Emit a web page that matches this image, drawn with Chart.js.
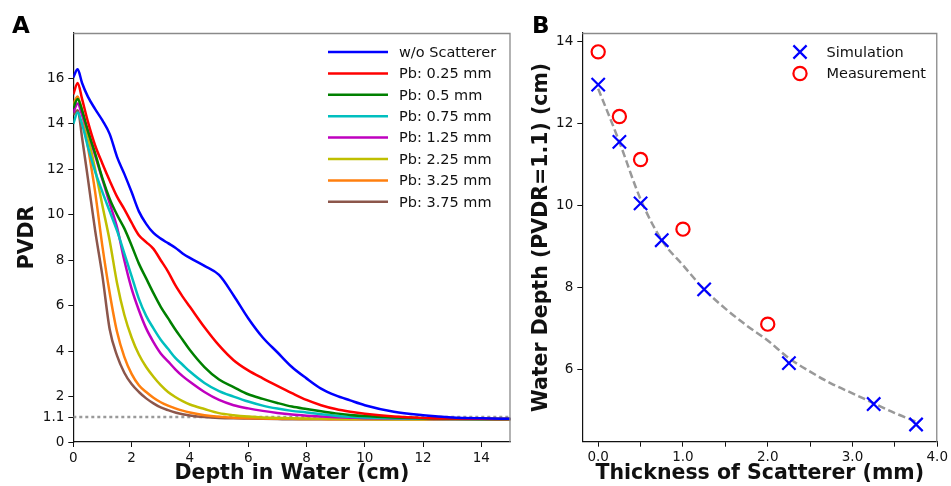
<!DOCTYPE html>
<html>
<head>
<meta charset="utf-8">
<script src="https://cdn.jsdelivr.net/npm/chart.js@4.4.1/dist/chart.umd.min.js"></script>
<style>
  body { margin: 0; background: #fff; width: 951px; height: 486px; overflow: hidden; position: relative; }
  #chartA { position: absolute; left: 0; top: 0; }
  #chartB { position: absolute; left: 520px; top: 0; }
</style>
</head>
<body>
<canvas id="chartA" width="520" height="486"></canvas>
<canvas id="chartB" width="431" height="486"></canvas>
<script>
// ---- panel A data: PVDR vs depth in water (cm)
const depth = [0, 0.15, 0.3, 0.5, 0.75, 1, 1.25, 1.5, 1.75, 2, 2.25, 2.5, 2.75, 3, 3.25, 3.5, 3.75, 4,
  4.5, 5, 5.5, 6, 6.5, 7, 7.5, 8, 8.5, 9, 9.5, 10, 11, 12, 13, 14, 15];
const pvdrNone = [16.05, 16.4, 15.8, 15.2, 14.65, 14.15, 13.55, 12.55, 11.8, 11.0, 10.15, 9.6, 9.2, 8.95, 8.75, 8.55, 8.3, 8.1,
  7.75, 7.35, 6.45, 5.45, 4.6, 3.95, 3.3, 2.8, 2.35, 2.05, 1.83, 1.62, 1.33, 1.18, 1.08, 1.04, 1.02];
const pvdrPb025 = [15.3, 15.8, 15.1, 14.1, 13.05, 12.25, 11.5, 10.8, 10.25, 9.65, 9.1, 8.8, 8.5, 8.0, 7.5, 6.9, 6.4, 5.95,
  5.05, 4.25, 3.6, 3.15, 2.8, 2.47, 2.15, 1.85, 1.62, 1.45, 1.33, 1.24, 1.12, 1.06, 1.03, 1.02, 1.01];
const pvdrPb05 = [14.7, 15.1, 14.6, 13.7, 12.7, 11.6, 10.7, 10.0, 9.4, 8.65, 7.85, 7.2, 6.55, 5.95, 5.45, 4.95, 4.5, 4.05,
  3.3, 2.75, 2.42, 2.1, 1.9, 1.72, 1.56, 1.45, 1.35, 1.26, 1.19, 1.14, 1.08, 1.04, 1.02, 1.01, 1.01];
const pvdrPb075 = [14.0, 14.5, 14.0, 13.0, 11.9, 11.0, 10.15, 9.3, 8.3, 7.3, 6.3, 5.55, 5.0, 4.5, 4.1, 3.7, 3.4, 3.1,
  2.6, 2.24, 2.0, 1.78, 1.6, 1.47, 1.37, 1.3, 1.22, 1.16, 1.11, 1.08, 1.04, 1.02, 1.01, 1.01, 1.01];
const pvdrPb125 = [14.5, 14.9, 14.4, 13.7, 12.6, 11.55, 10.5, 9.45, 8.0, 6.75, 5.8, 5.0, 4.4, 3.9, 3.55, 3.2, 2.9, 2.65,
  2.2, 1.85, 1.62, 1.48, 1.37, 1.28, 1.21, 1.16, 1.12, 1.09, 1.07, 1.05, 1.03, 1.02, 1.01, 1.01, 1.01];
const pvdrPb225 = [14.8, 15.1, 14.6, 13.5, 12.0, 10.4, 8.85, 7.0, 5.6, 4.6, 3.85, 3.3, 2.87, 2.5, 2.2, 1.98, 1.8, 1.65,
  1.45, 1.27, 1.18, 1.12, 1.08, 1.06, 1.04, 1.03, 1.02, 1.02, 1.01, 1.01, 1.0, 1.0, 1.0, 1.0, 1.0];
const pvdrPb325 = [14.9, 15.2, 14.5, 13.0, 11.0, 8.6, 6.55, 4.85, 3.75, 3.0, 2.5, 2.2, 1.95, 1.75, 1.6, 1.48, 1.38, 1.3,
  1.18, 1.11, 1.07, 1.05, 1.03, 1.02, 1.02, 1.01, 1.01, 1.0, 1.0, 1.0, 1.0, 1.0, 1.0, 1.0, 1.0];
const pvdrPb375 = [14.4, 14.6, 13.4, 11.6, 9.3, 7.3, 4.95, 3.8, 3.05, 2.55, 2.2, 1.92, 1.7, 1.52, 1.4, 1.3, 1.22, 1.17,
  1.1, 1.06, 1.04, 1.03, 1.02, 1.01, 1.0, 1.0, 1.0, 1.0, 1.0, 1.0, 1.0, 1.0, 1.0, 1.0, 1.0];
const seriesLabels = ['w/o Scatterer', 'Pb: 0.25 mm', 'Pb: 0.5 mm', 'Pb: 0.75 mm',
  'Pb: 1.25 mm', 'Pb: 2.25 mm', 'Pb: 3.25 mm', 'Pb: 3.75 mm'];
const seriesValues = [pvdrNone, pvdrPb025, pvdrPb05, pvdrPb075, pvdrPb125, pvdrPb225, pvdrPb325, pvdrPb375];
const pvdrThreshold = 1.1;
const xTicksA = [0, 2, 4, 6, 8, 10, 12, 14];
const yTicksA = [0, 1.1, 2, 4, 6, 8, 10, 12, 14, 16];

// ---- panel B data: water depth at PVDR = 1.1 vs scatterer thickness (mm)
const simThickness = [0, 0.25, 0.5, 0.75, 1.25, 2.25, 3.25, 3.75];
const simDepth = [12.95, 11.55, 10.05, 9.15, 7.95, 6.15, 5.15, 4.65];
const measThickness = [0, 0.25, 0.5, 1.0, 2.0];
const measDepth = [13.75, 12.17, 11.12, 9.42, 7.1];
const fitThickness = [0, 0.25, 0.5, 0.75, 1, 1.25, 1.5, 1.75, 2, 2.25, 2.5, 2.75, 3, 3.25, 3.5, 3.75];
const fitDepth = [12.85, 11.55, 10.15, 9.15, 8.54, 7.95, 7.48, 7.07, 6.7, 6.27, 5.94, 5.65, 5.41, 5.17, 4.93, 4.72];
const xTicksB = [0, 0.5, 1, 1.5, 2, 2.5, 3, 3.5, 4];
const yTicksB = [6, 8, 10, 12, 14];

const seriesColors = ['#0000ff', '#ff0000', '#008000', '#00bfbf', '#bf00bf', '#bfbf00', '#ff7f0e', '#8c564b'];

Chart.defaults.font.family = '"DejaVu Sans", sans-serif';
Chart.defaults.color = '#111';

const pts = (xs, ys) => xs.map((x, i) => ({ x: x, y: ys[i] }));

// draws top/right frame and the panel letter
function framePlugin(letter) {
  return {
    id: 'frame' + letter,
    afterDraw(chart) {
      const ctx = chart.ctx, a = chart.chartArea;
      ctx.save();
      ctx.strokeStyle = '#8a8a8a';
      ctx.lineWidth = 1.3;
      ctx.beginPath();
      ctx.moveTo(a.left, a.top + 0.5);
      ctx.lineTo(a.right - 0.5, a.top + 0.5);
      ctx.lineTo(a.right - 0.5, a.bottom);
      ctx.stroke();
      ctx.fillStyle = '#000';
      ctx.font = 'bold 23px "DejaVu Sans"';
      ctx.textBaseline = 'alphabetic';
      ctx.fillText(letter, 12, 33);
      ctx.restore();
    }
  };
}

const legendA = {
  id: 'legendA',
  afterDraw(chart) {
    const ctx = chart.ctx;
    ctx.save();
    ctx.font = '14.5px "DejaVu Sans"';
    ctx.textBaseline = 'middle';
    ctx.fillStyle = '#111';
    seriesLabels.forEach((lab, i) => {
      const y = 52 + i * 21.4;
      ctx.strokeStyle = seriesColors[i];
      ctx.lineWidth = 2.5;
      ctx.beginPath();
      ctx.moveTo(328, y);
      ctx.lineTo(388, y);
      ctx.stroke();
      ctx.fillText(lab, 399, y + 1);
    });
    ctx.restore();
  }
};

const legendB = {
  id: 'legendB',
  afterDraw(chart) {
    const ctx = chart.ctx;
    const mx = 280;
    ctx.save();
    ctx.lineWidth = 2.2;
    ctx.strokeStyle = '#0000ff';
    ctx.beginPath();
    ctx.moveTo(mx - 6.6, 52 - 6.6); ctx.lineTo(mx + 6.6, 52 + 6.6);
    ctx.moveTo(mx - 6.6, 52 + 6.6); ctx.lineTo(mx + 6.6, 52 - 6.6);
    ctx.stroke();
    ctx.strokeStyle = '#ff0000';
    ctx.beginPath();
    ctx.arc(mx, 73.5, 6.6, 0, Math.PI * 2);
    ctx.stroke();
    ctx.font = '14.5px "DejaVu Sans"';
    ctx.textBaseline = 'middle';
    ctx.fillStyle = '#111';
    ctx.fillText('Simulation', 306.5, 53);
    ctx.fillText('Measurement', 306.5, 74.5);
    ctx.restore();
  }
};

const tickFont = { size: 13.5 };
const titleFont = { size: 20.5, weight: 'bold' };
const axisLine = { display: true, color: '#111', width: 1.2 };
const gridTicks = { drawOnChartArea: false, drawTicks: true, tickLength: 5, tickColor: '#111' };

// ---- panel A
const datasetsA = seriesLabels.map((lab, i) => ({
  label: lab,
  data: pts(depth, seriesValues[i]),
  borderColor: seriesColors[i],
  borderWidth: 2.5,
  pointRadius: 0,
  cubicInterpolationMode: 'monotone',
  order: i + 1
}));
datasetsA.push({
  label: 'threshold',
  data: [{ x: 0, y: pvdrThreshold }, { x: 15, y: pvdrThreshold }],
  borderColor: '#9a9a9a',
  borderWidth: 2.5,
  borderDash: [3, 3],
  pointRadius: 0,
  order: 20
});

new Chart(document.getElementById('chartA'), {
  type: 'line',
  data: { datasets: datasetsA },
  options: {
    responsive: false,
    animation: false,
    layout: { padding: { left: 15, top: 33, right: 9.5, bottom: 0 } },
    plugins: { legend: { display: false }, tooltip: { enabled: false } },
    scales: {
      x: {
        type: 'linear', min: 0, max: 15,
        border: axisLine, grid: gridTicks,
        afterBuildTicks: s => { s.ticks = xTicksA.map(v => ({ value: v })); },
        afterFit: s => { s.height = 44; },
        ticks: { font: tickFont, padding: 3, autoSkip: false, maxRotation: 0, callback: v => String(v) },
        title: { display: true, text: 'Depth in Water (cm)', font: titleFont, padding: 0 }
      },
      y: {
        type: 'linear', min: 0, max: 18,
        border: axisLine, grid: gridTicks,
        afterBuildTicks: s => { s.ticks = yTicksA.map(v => ({ value: v })); },
        afterFit: s => { s.width = 58.3; },
        ticks: { font: tickFont, padding: 4, autoSkip: false, callback: v => String(v) },
        title: { display: true, text: 'PVDR', font: titleFont, padding: 0 }
      }
    }
  },
  plugins: [framePlugin('A'), legendA]
});

// ---- panel B
new Chart(document.getElementById('chartB'), {
  type: 'scatter',
  data: {
    datasets: [
      {
        label: 'fit',
        data: pts(fitThickness, fitDepth),
        showLine: true,
        borderColor: '#999999',
        borderWidth: 2.5,
        borderDash: [7.5, 3.5],
        pointRadius: 0,
        cubicInterpolationMode: 'monotone',
        order: 3
      },
      {
        label: 'Simulation',
        data: pts(simThickness, simDepth),
        pointStyle: 'crossRot',
        pointRadius: 9.4,
        borderColor: '#0000ff',
        borderWidth: 2.2,
        order: 1
      },
      {
        label: 'Measurement',
        data: pts(measThickness, measDepth),
        pointStyle: 'circle',
        pointRadius: 6.6,
        borderColor: '#ff0000',
        backgroundColor: 'rgba(0,0,0,0)',
        borderWidth: 2.2,
        order: 2
      }
    ]
  },
  options: {
    responsive: false,
    animation: false,
    layout: { padding: { left: 9, top: 33, right: 11.7, bottom: 0 } },
    plugins: { legend: { display: false }, tooltip: { enabled: false } },
    scales: {
      x: {
        type: 'linear', min: -0.1875, max: 4.0,
        border: axisLine, grid: gridTicks,
        afterBuildTicks: s => { s.ticks = xTicksB.map(v => ({ value: v })); },
        afterFit: s => { s.height = 44.3; },
        ticks: { font: tickFont, padding: 3, autoSkip: false, maxRotation: 0,
          callback: v => Number.isInteger(v) ? v.toFixed(1) : '' },
        title: { display: true, text: 'Thickness of Scatterer (mm)', font: titleFont, padding: 0 }
      },
      y: {
        type: 'linear', min: 4.23, max: 14.21,
        border: axisLine, grid: gridTicks,
        afterBuildTicks: s => { s.ticks = yTicksB.map(v => ({ value: v })); },
        afterFit: s => { s.width = 53.3; },
        ticks: { font: tickFont, padding: 4, autoSkip: false, callback: v => String(v) },
        title: { display: true, text: 'Water Depth (PVDR=1.1) (cm)', font: titleFont, padding: 0 }
      }
    }
  },
  plugins: [framePlugin('B'), legendB]
});
</script>
</body>
</html>
